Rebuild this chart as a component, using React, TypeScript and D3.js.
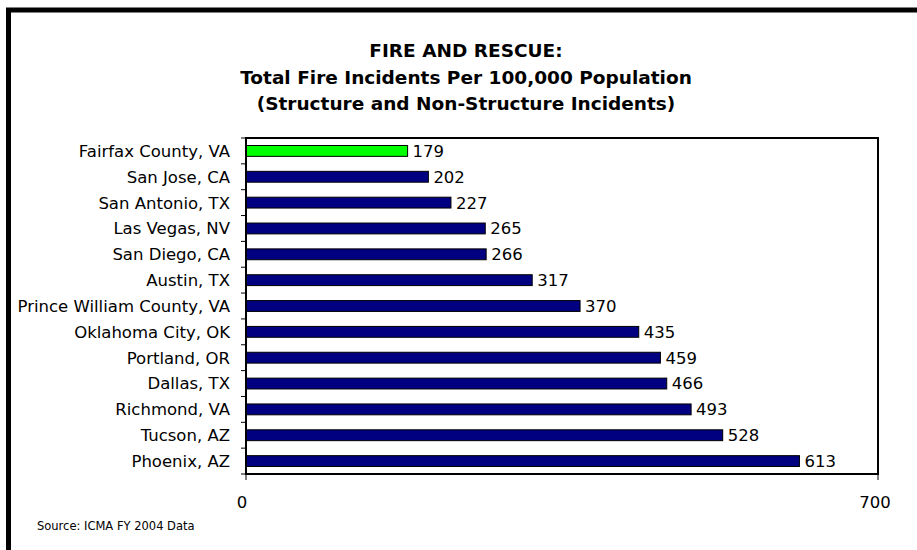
import { useEffect, useRef } from "react";
import * as d3 from "d3";

const CITIES = [
  "Fairfax County, VA",
  "San Jose, CA",
  "San Antonio, TX",
  "Las Vegas, NV",
  "San Diego, CA",
  "Austin, TX",
  "Prince William County, VA",
  "Oklahoma City, OK",
  "Portland, OR",
  "Dallas, TX",
  "Richmond, VA",
  "Tucson, AZ",
  "Phoenix, AZ",
];

const VALUES = [179, 202, 227, 265, 266, 317, 370, 435, 459, 466, 493, 528, 613];

const HIGHLIGHT = "Fairfax County, VA";

const X_TICKS = [0, 700];

const TITLE_LINES = [
  "FIRE AND RESCUE:",
  "Total Fire Incidents Per 100,000 Population",
  "(Structure and Non-Structure Incidents)",
];

const WIDTH = 917;
const HEIGHT = 550;
const PLOT = { left: 246, right: 878, top: 138, bottom: 474 };
const FONT = "'DejaVu Sans', sans-serif";

export default function App() {
  const ref = useRef<SVGSVGElement>(null);

  useEffect(() => {
    const svg = d3.select(ref.current);
    svg.selectAll("*").remove();

    const x = d3.scaleLinear().domain([0, 700]).range([PLOT.left, PLOT.right]);
    const y = d3
      .scaleBand<string>()
      .domain(CITIES)
      .range([PLOT.top, PLOT.bottom])
      .paddingInner(0.58)
      .paddingOuter(0.29);

    // white background + thick outer frame
    svg.append("rect").attr("width", WIDTH).attr("height", HEIGHT).attr("fill", "white");
    svg.append("rect")
      .attr("x", 8.5).attr("y", 10)
      .attr("width", 1200).attr("height", 1200)
      .attr("fill", "none")
      .attr("stroke", "black")
      .attr("stroke-width", 5);

    // title
    TITLE_LINES.forEach((line, i) => {
      svg.append("text")
        .attr("x", 466).attr("y", 57 + i * 26.5)
        .attr("text-anchor", "middle")
        .attr("font-family", FONT)
        .attr("font-size", 18.5)
        .attr("font-weight", "bold")
        .attr("fill", "black")
        .text(line);
    });

    // bars
    const step = y.step();
    CITIES.forEach((city, i) => {
      const v = VALUES[i];
      svg.append("rect")
        .attr("x", x(0))
        .attr("y", y(city)!)
        .attr("width", x(v) - x(0))
        .attr("height", y.bandwidth())
        .attr("fill", city === HIGHLIGHT ? "#00ff00" : "#000080")
        .attr("stroke", "black")
        .attr("stroke-width", 1);

      svg.append("text")
        .attr("x", x(v) + 5)
        .attr("y", y(city)! + y.bandwidth() / 2)
        .attr("dy", "0.36em")
        .attr("font-family", FONT)
        .attr("font-size", 16.5)
        .attr("fill", "black")
        .text(v);

      svg.append("text")
        .attr("x", PLOT.left - 16)
        .attr("y", y(city)! + y.bandwidth() / 2)
        .attr("dy", "0.36em")
        .attr("text-anchor", "end")
        .attr("font-family", FONT)
        .attr("font-size", 16.5)
        .attr("fill", "black")
        .text(city);
    });

    // category ticks at band boundaries
    d3.range(CITIES.length + 1).forEach((i) => {
      const ty = PLOT.top + i * step;
      svg.append("line")
        .attr("x1", PLOT.left - 5).attr("x2", PLOT.left)
        .attr("y1", ty).attr("y2", ty)
        .attr("stroke", "black").attr("stroke-width", 1);
    });

    // plot frame
    svg.append("rect")
      .attr("x", PLOT.left).attr("y", PLOT.top)
      .attr("width", PLOT.right - PLOT.left)
      .attr("height", PLOT.bottom - PLOT.top)
      .attr("fill", "none")
      .attr("stroke", "black")
      .attr("stroke-width", 2);

    // x ticks + labels
    X_TICKS.forEach((t) => {
      svg.append("line")
        .attr("x1", x(t)).attr("x2", x(t))
        .attr("y1", PLOT.bottom).attr("y2", PLOT.bottom + 6)
        .attr("stroke", "black").attr("stroke-width", 1);
      svg.append("text")
        .attr("x", x(t) - (t === 0 ? 4 : 3)).attr("y", 508)
        .attr("text-anchor", "middle")
        .attr("font-family", FONT)
        .attr("font-size", 16.5)
        .attr("fill", "black")
        .text(t);
    });

    // source note
    svg.append("text")
      .attr("x", 37).attr("y", 530)
      .attr("font-family", FONT)
      .attr("font-size", 11.5)
      .attr("fill", "black")
      .text("Source: ICMA FY 2004 Data");
  }, []);

  return (
    <div style={{ position: "absolute", left: 0, top: 0 }}>
      <svg ref={ref} width={WIDTH} height={HEIGHT} style={{ display: "block" }} />
    </div>
  );
}
